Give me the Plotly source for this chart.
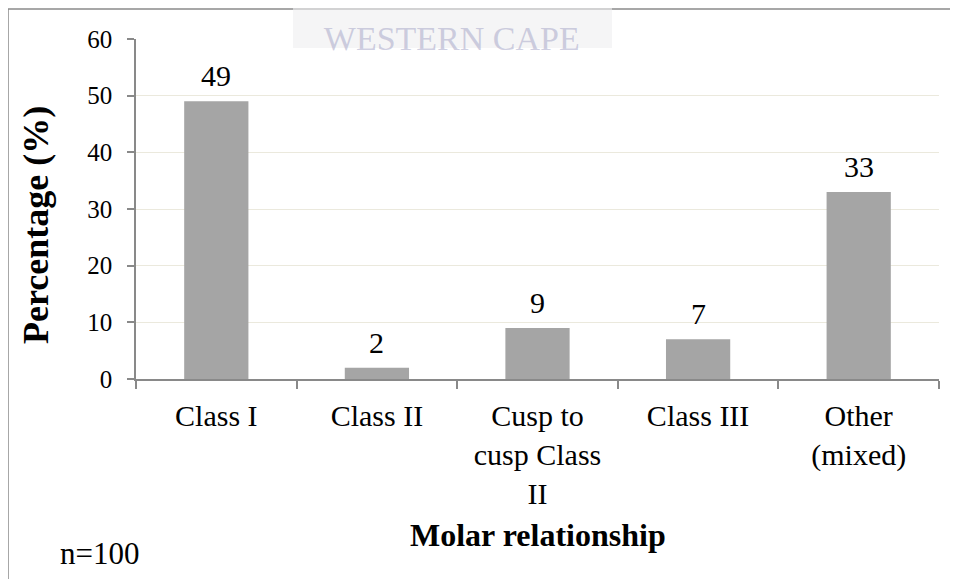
import plotly.graph_objects as go

categories = ["Class I", "Class II", "Cusp to<br>cusp Class<br>II", "Class III", "Other<br>(mixed)"]
values = [49, 2, 9, 7, 33]
y_ticks = [0, 10, 20, 30, 40, 50, 60]

SERIF = "Liberation Serif, Times New Roman, serif"
AXIS = "#898989"

fig = go.Figure()
fig.add_trace(go.Bar(x=categories, y=values, marker=dict(color="#a5a5a5", line=dict(width=0)),
                     hoverinfo="skip"))

annotations = []
for c, v in zip(categories, values):
    annotations.append(dict(x=c, y=v, xref="x", yref="y", text=str(v), showarrow=False,
                            yanchor="bottom", yshift=7, font=dict(family=SERIF, size=30, color="black")))

annotations += [
    dict(text="<b>Percentage (%)</b>", textangle=-90, x=-0.1245, y=0.453, xref="paper", yref="paper",
         showarrow=False, xanchor="center", yanchor="middle", font=dict(family=SERIF, size=36, color="black")),
    dict(text="<b>Molar relationship</b>", x=0.5, y=-0.459, xref="paper", yref="paper",
         showarrow=False, xanchor="center", yanchor="middle", font=dict(family=SERIF, size=32, color="black")),
    dict(text="n=100", x=-0.0455, y=-0.512, xref="paper", yref="paper",
         showarrow=False, xanchor="center", yanchor="middle", font=dict(family=SERIF, size=31, color="black")),
    dict(text="UNIVERSITY of the<br>WESTERN CAPE", x=0.3935, y=1.0676, xref="paper", yref="paper",
         showarrow=False, xanchor="center", yanchor="middle",
         font=dict(family=SERIF, size=34, color="rgba(175,175,205,0.6)")),
]

fig.update_layout(
    width=950, height=571,
    margin=dict(l=128, r=19, t=31, b=200),
    paper_bgcolor="white", plot_bgcolor="white",
    showlegend=False,
    bargap=0.6,
    annotations=annotations,
    shapes=[
        dict(type="line", xref="paper", yref="paper", x0=-0.1594, x1=1.03, y0=1.0882, y1=1.0882,
             line=dict(color="#8a8a8a", width=1.5), layer="below"),
        dict(type="line", xref="paper", yref="paper", x0=-0.1594, x1=-0.1594, y0=1.0882, y1=-0.7,
             line=dict(color="#8a8a8a", width=1.5), layer="below"),
        dict(type="rect", xref="paper", yref="paper", x0=0.1955, x1=0.5928, y0=0.9735, y1=1.1,
             fillcolor="rgba(238,238,240,0.6)", line=dict(width=0), layer="above"),
    ],
    xaxis=dict(
        type="category", showline=True, linecolor=AXIS, linewidth=1.5,
        ticks="outside", tickson="boundaries", ticklen=8, tickcolor=AXIS, tickwidth=1.5,
        showgrid=False, tickfont=dict(family=SERIF, size=30, color="black"),
        ticklabelstandoff=9,
    ),
    yaxis=dict(
        range=[0, 60], tickvals=y_ticks, showline=True, linecolor=AXIS, linewidth=1.5,
        ticks="outside", ticklen=7, tickcolor=AXIS, tickwidth=1.5,
        showgrid=True, gridcolor="#ebe9dd", gridwidth=1.2, zeroline=False,
        tickfont=dict(family=SERIF, size=25, color="black"),
        ticklabelstandoff=10,
    ),
)

fig.write_html("out.html")
